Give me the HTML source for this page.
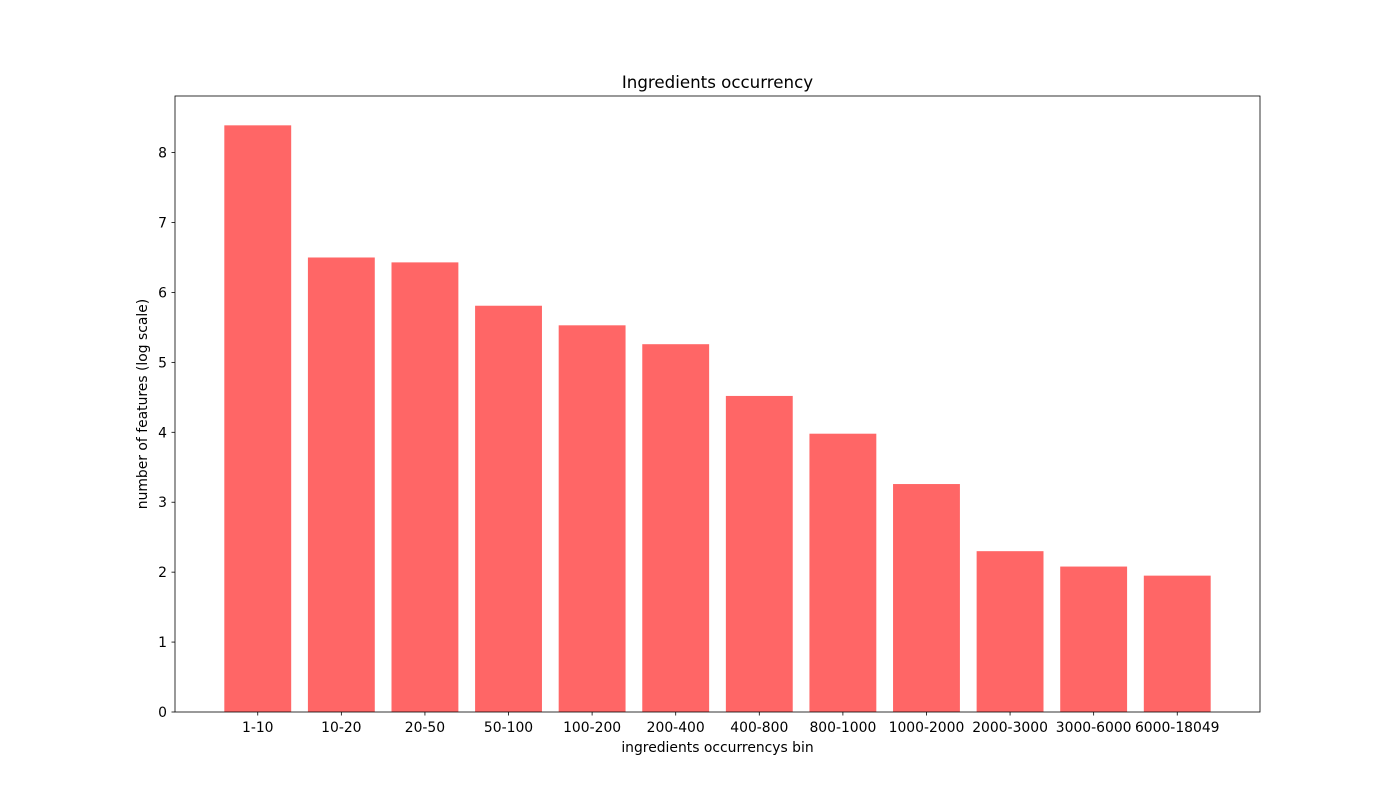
<!DOCTYPE html>
<html><head><meta charset="utf-8"><style>body{margin:0;background:#fff}svg{display:block;font-family:"DejaVu Sans","Liberation Sans",sans-serif}</style></head>
<body>
<svg id="chart" width="1400" height="800"></svg>
<script>
const categories=["1-10","10-20","20-50","50-100","100-200","200-400","400-800","800-1000","1000-2000","2000-3000","3000-6000","6000-18049"];
const values=[8.39,6.50,6.43,5.81,5.53,5.26,4.52,3.98,3.26,2.30,2.08,1.95];
const yTicks=[0,1,2,3,4,5,6,7,8];
const NS="http://www.w3.org/2000/svg";
const svg=document.getElementById('chart');
const L=175,R=1260,T=96,B=712;
const yMax=Math.max(...values)*1.05;
const xMin=-0.4-0.05*(categories.length-1+0.8),xMax=categories.length-1+0.4+0.05*(categories.length-1+0.8);
const x=v=>L+(v-xMin)/(xMax-xMin)*(R-L);
const y=v=>B-v/yMax*(B-T);
function mk(tag,a,p){const e=document.createElementNS(NS,tag);for(const k in a)e.setAttribute(k,a[k]);(p||svg).appendChild(e);return e;}
values.forEach((v,i)=>{
 const r=mk('rect',{x:x(i-0.4),y:y(v),width:x(i+0.4)-x(i-0.4),height:B-y(v),fill:'#ff6666'});
 
 
 mk('line',{x1:x(i),x2:x(i),y1:B,y2:B+3.5,stroke:'#000','stroke-width':0.8});
 const t=mk('text',{x:x(i),y:B+20,'text-anchor':'middle','font-size':13.9});
 t.textContent=categories[i];
 
 
});
yTicks.forEach(v=>{
 mk('line',{x1:L-3.5,x2:L,y1:y(v),y2:y(v),stroke:'#000','stroke-width':0.8});
 const t=mk('text',{x:L-8,y:y(v)+5,'text-anchor':'end','font-size':13.9});
 t.textContent=v;
 
 
});
const f=mk('rect',{x:L,y:T,width:R-L,height:B-T,fill:'none',stroke:'#000','stroke-width':0.8});


let t=mk('text',{x:(L+R)/2,y:88,'text-anchor':'middle','font-size':16.67});t.textContent='Ingredients occurrency';


t=mk('text',{x:(L+R)/2,y:752,'text-anchor':'middle','font-size':13.9});t.textContent='ingredients occurrencys bin';


t=mk('text',{x:147,y:404,'text-anchor':'middle','font-size':13.9,transform:'rotate(-90 147 404)'});t.textContent='number of features (log scale)';


</script>
</body></html>
